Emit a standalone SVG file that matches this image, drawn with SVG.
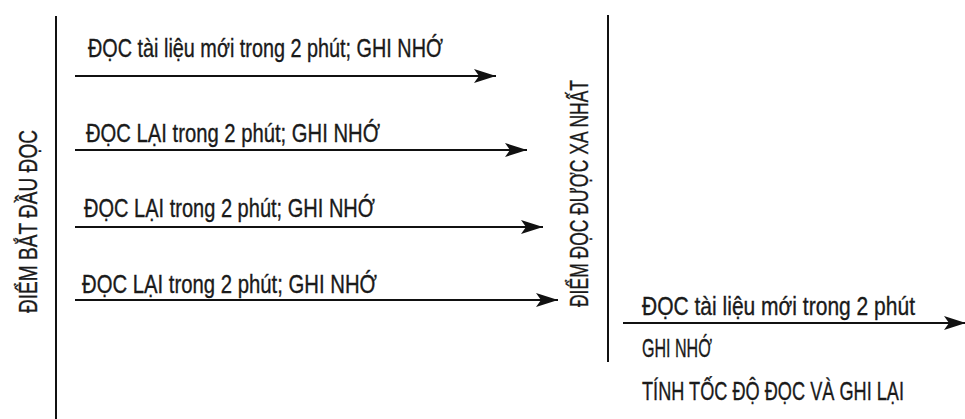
<svg xmlns="http://www.w3.org/2000/svg" width="965" height="419" viewBox="0 0 965 419">
  <style>
    .lbl { font-family: "Liberation Sans Narrow", "Liberation Sans", Arial, sans-serif; font-size: 25px; fill: #1a1a1a; stroke: #1a1a1a; stroke-width: 0.35; }
    .bar { stroke: #111; stroke-width: 2; fill: none; }
    .conn { stroke: #111; stroke-width: 2; fill: none; marker-end: url(#arr); }
  </style>
  <defs>
    <marker id="arr" markerUnits="userSpaceOnUse" markerWidth="24" markerHeight="16" refX="22" refY="8" orient="auto" viewBox="0 0 24 16">
      <path d="M0,1 L22,8 L0,15 L5,8 Z" fill="#111"/>
    </marker>
  </defs>

  <rect width="965" height="419" fill="#fff"/>

  <g id="start">
    <line class="bar" x1="56" y1="16" x2="56" y2="419"/>
    <text class="lbl" font-size="21" transform="translate(37,313) rotate(-90) scale(0.8,1)" textLength="228.75" lengthAdjust="spacingAndGlyphs">ĐIỂM BẮT ĐẦU ĐỌC</text>
  </g>

  <g id="farthest">
    <line class="bar" x1="608" y1="15" x2="608" y2="362"/>
    <text class="lbl" font-size="23" transform="translate(588,307) rotate(-90) scale(0.8,1)" textLength="283.75" lengthAdjust="spacingAndGlyphs">ĐIỂM ĐỌC ĐƯỢC XA NHẤT</text>
  </g>

  <g id="connectors">
    <line class="conn" x1="75" y1="76" x2="496" y2="76"/>
    <line class="conn" x1="75" y1="150" x2="527" y2="150"/>
    <line class="conn" x1="75" y1="227" x2="543" y2="227"/>
    <line class="conn" x1="75" y1="300" x2="558" y2="300"/>
    <line class="conn" x1="623" y1="323" x2="966" y2="323"/>
  </g>

  <g id="step1">
    <text class="lbl" transform="translate(88,57) scale(0.8,1)" textLength="443.75" lengthAdjust="spacingAndGlyphs">ĐỌC tài liệu mới trong 2 phút; GHI NHỚ</text>
  </g>
  <g id="step2">
    <text class="lbl" transform="translate(86,142) scale(0.8,1)" textLength="367.5" lengthAdjust="spacingAndGlyphs">ĐỌC LẠI trong  2 phút; GHI NHỚ</text>
  </g>
  <g id="step3">
    <text class="lbl" transform="translate(84,217) scale(0.8,1)" textLength="363.75" lengthAdjust="spacingAndGlyphs">ĐỌC LẠI trong 2 phút; GHI NHỚ</text>
  </g>
  <g id="step4">
    <text class="lbl" transform="translate(82,293) scale(0.8,1)" textLength="368.75" lengthAdjust="spacingAndGlyphs">ĐỌC LẠI trong 2 phút; GHI NHỚ</text>
  </g>

  <g id="final">
    <text class="lbl" transform="translate(642,315) scale(0.8,1)" textLength="341.25" lengthAdjust="spacingAndGlyphs">ĐỌC tài liệu mới trong 2 phút</text>
    <text class="lbl" transform="translate(642,357) scale(0.8,1)" textLength="87.5" lengthAdjust="spacingAndGlyphs">GHI NHỚ</text>
    <text class="lbl" transform="translate(642,400) scale(0.8,1)" textLength="327.5" lengthAdjust="spacingAndGlyphs">TÍNH TỐC ĐỘ ĐỌC VÀ GHI LẠI</text>
  </g>
</svg>
